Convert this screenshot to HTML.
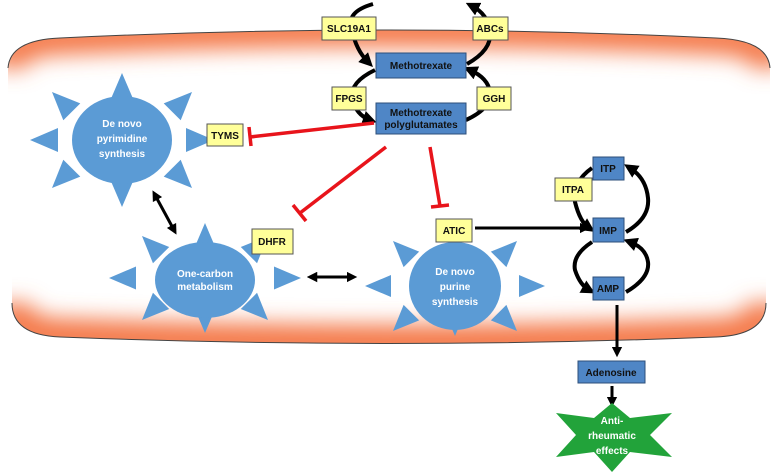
<!DOCTYPE html>
<html><head><meta charset="utf-8"><style>
body{margin:0;background:#fff;}
svg{display:block;font-family:"Liberation Sans",sans-serif;}
.y{fill:#ffff99;stroke:#555;stroke-width:1}
.b{fill:#4f86c6;stroke:#2e4f7a;stroke-width:1}
.t{font-size:10px;font-weight:bold;fill:#111;text-anchor:middle}
.w{font-size:10px;font-weight:bold;fill:#fff;text-anchor:middle}
</style></head><body>
<svg id="s" width="777" height="474" viewBox="0 0 777 474" xmlns="http://www.w3.org/2000/svg">
<defs>
<clipPath id="ct"><path d="M8,68 Q10,40 60,38 Q388,22 716,38 Q768,40 770,68 L770,200 L8,200 Z"/></clipPath>
<clipPath id="cb"><path d="M12,303 Q12,335 60,337 Q390,350 716,337 Q766,335 766,303 L766,200 L12,200 Z"/></clipPath>
<filter id="bl" x="-10%" y="-100%" width="120%" height="300%"><feGaussianBlur stdDeviation="11"/></filter>
<marker id="a" viewBox="0 0 10 10" refX="5" refY="5" markerWidth="3.5" markerHeight="3.5" orient="auto-start-reverse"><path d="M0,0L10,5L0,10z" fill="#000"/></marker>
</defs>
<g clip-path="url(#ct)"><path d="M8,68 Q10,40 60,38 Q388,22 716,38 Q768,40 770,68" fill="none" stroke="#f47a4c" stroke-width="34" filter="url(#bl)"/></g>
<path d="M8,68 Q10,40 60,38 Q388,22 716,38 Q768,40 770,68" fill="none" stroke="#444" stroke-width="1"/>
<g clip-path="url(#cb)"><path d="M12,303 Q12,335 60,337 Q390,350 716,337 Q766,335 766,303" fill="none" stroke="#f47a4c" stroke-width="38" filter="url(#bl)"/></g>
<path d="M12,303 Q12,335 60,337 Q390,350 716,337 Q766,335 766,303" fill="none" stroke="#444" stroke-width="1"/>
<g id="stars"></g>
<ellipse cx="122" cy="140" rx="50" ry="44" fill="#5b9bd5"/>
<text class="w" x="122" y="127" font-size="11">De novo</text><text class="w" x="122" y="142" font-size="11">pyrimidine</text><text class="w" x="122" y="157" font-size="11">synthesis</text>
<ellipse cx="205" cy="280" rx="50" ry="38" fill="#5b9bd5"/>
<text class="w" x="205" y="277" font-size="9">One-carbon</text><text class="w" x="205" y="290" font-size="9">metabolism</text>
<ellipse cx="455" cy="286" rx="46" ry="44" fill="#5b9bd5"/>
<text class="w" x="455" y="275" font-size="11">De novo</text><text class="w" x="455" y="290" font-size="11">purine</text><text class="w" x="455" y="305" font-size="11">synthesis</text>
<g fill="none" stroke="#000" stroke-width="4">
<path d="M373,4 Q345,12 352,30 Q356,50 368,62" marker-end="url(#a)"/>
<path d="M467,64 Q492,50 490,32 Q488,14 472,6" marker-end="url(#a)"/>
<path d="M375,70 Q350,82 352,98 Q356,115 370,120" marker-end="url(#a)"/>
<path d="M466,120 Q492,108 490,92 Q488,78 470,70" marker-end="url(#a)"/>
<path d="M592,168 Q572,182 575,202 Q580,222 589,228" marker-end="url(#a)"/>
<path d="M626,232 Q650,218 648,198 Q646,178 630,168" marker-end="url(#a)"/>
<path d="M592,242 Q572,255 575,270 Q580,285 589,290" marker-end="url(#a)"/>
<path d="M626,292 Q650,278 648,262 Q646,248 630,242" marker-end="url(#a)"/>
<path d="M475,228 L585,228" stroke-width="3" marker-end="url(#a)"/>
<path d="M155,195 L174,230" stroke-width="3" marker-start="url(#a)" marker-end="url(#a)"/>
<path d="M312,277 L352,277" stroke-width="3" marker-start="url(#a)" marker-end="url(#a)"/>
<path d="M617,305 L617,352" stroke-width="3" marker-end="url(#a)"/>
<path d="M612,386 L612,402" stroke-width="3" marker-end="url(#a)"/>
</g>
<g stroke="#e8141b" stroke-width="3.5" fill="none">
<path d="M374,123 L250,137"/><path d="M249,127 L251,146"/>
<path d="M386,147 L300,213"/><path d="M293,205 L306,221"/>
<path d="M430,147 L440,206"/><path d="M431,207 L449,205"/>
</g>
<rect class="y" x="322" y="17" width="54" height="23"/><text class="t" x="349" y="32">SLC19A1</text>
<rect class="y" x="473" y="17" width="35" height="23"/><text class="t" x="490" y="32">ABCs</text>
<rect class="b" x="376" y="53" width="90" height="25"/><text class="t" x="421" y="69">Methotrexate</text>
<rect class="y" x="332" y="87" width="34" height="23"/><text class="t" x="349" y="102">FPGS</text>
<rect class="y" x="477" y="87" width="34" height="23"/><text class="t" x="494" y="102">GGH</text>
<rect class="b" x="376" y="103" width="90" height="31"/><text class="t" x="421" y="116" font-size="8.5">Methotrexate</text><text class="t" x="421" y="128" font-size="8.5">polyglutamates</text>
<rect class="y" x="207" y="124" width="36" height="22"/><text class="t" x="225" y="139">TYMS</text>
<rect class="y" x="252" y="229" width="41" height="25"/><text class="t" x="272" y="245">DHFR</text>
<rect class="y" x="436" y="219" width="36" height="23"/><text class="t" x="454" y="234">ATIC</text>
<rect class="b" x="593" y="157" width="31" height="23"/><text class="t" x="608" y="172">ITP</text>
<rect class="y" x="555" y="178" width="37" height="23"/><text class="t" x="573" y="193">ITPA</text>
<rect class="b" x="593" y="218" width="31" height="24"/><text class="t" x="608" y="234">IMP</text>
<rect class="b" x="593" y="277" width="31" height="23"/><text class="t" x="608" y="292">AMP</text>
<rect class="b" x="578" y="361" width="67" height="22"/><text class="t" x="611" y="376">Adenosine</text>
<polygon points="612,403 630,418 672,413 650,435 672,457 630,452 612,472 594,452 556,457 576,435 556,413 594,418" fill="#22a33a"/>
<text class="w" x="612" y="424">Anti-</text><text class="w" x="612" y="439">rheumatic</text><text class="w" x="612" y="454">effects</text>
</svg>
<script>
(function(){
var g=document.getElementById('stars'),ns='http://www.w3.org/2000/svg';
// cx,cy, tipX, tipY, diagX, diagY, len, width
var S=[[122,140,92,67,70,48,28,24],[205,278,96,55,63,42,27,23],[455,286,90,50,62,45,26,22]];
S.forEach(function(s){for(var i=0;i<8;i++){var a=i*Math.PI/4;var c=Math.cos(a),d=Math.sin(a);
var tx,ty;
if(i%2){tx=s[0]+Math.sign(c)*s[4];ty=s[1]+Math.sign(d)*s[5];}
else{tx=s[0]+c*s[2];ty=s[1]+d*s[3];}
var bx=tx-c*s[6],by=ty-d*s[6],px=-d*s[7]/2,py=c*s[7]/2;
var p=document.createElementNS(ns,'polygon');
p.setAttribute('points',tx+','+ty+' '+(bx+px)+','+(by+py)+' '+(bx-px)+','+(by-py));
p.setAttribute('fill','#5b9bd5');g.appendChild(p);}});
})();
</script>
</body></html>
